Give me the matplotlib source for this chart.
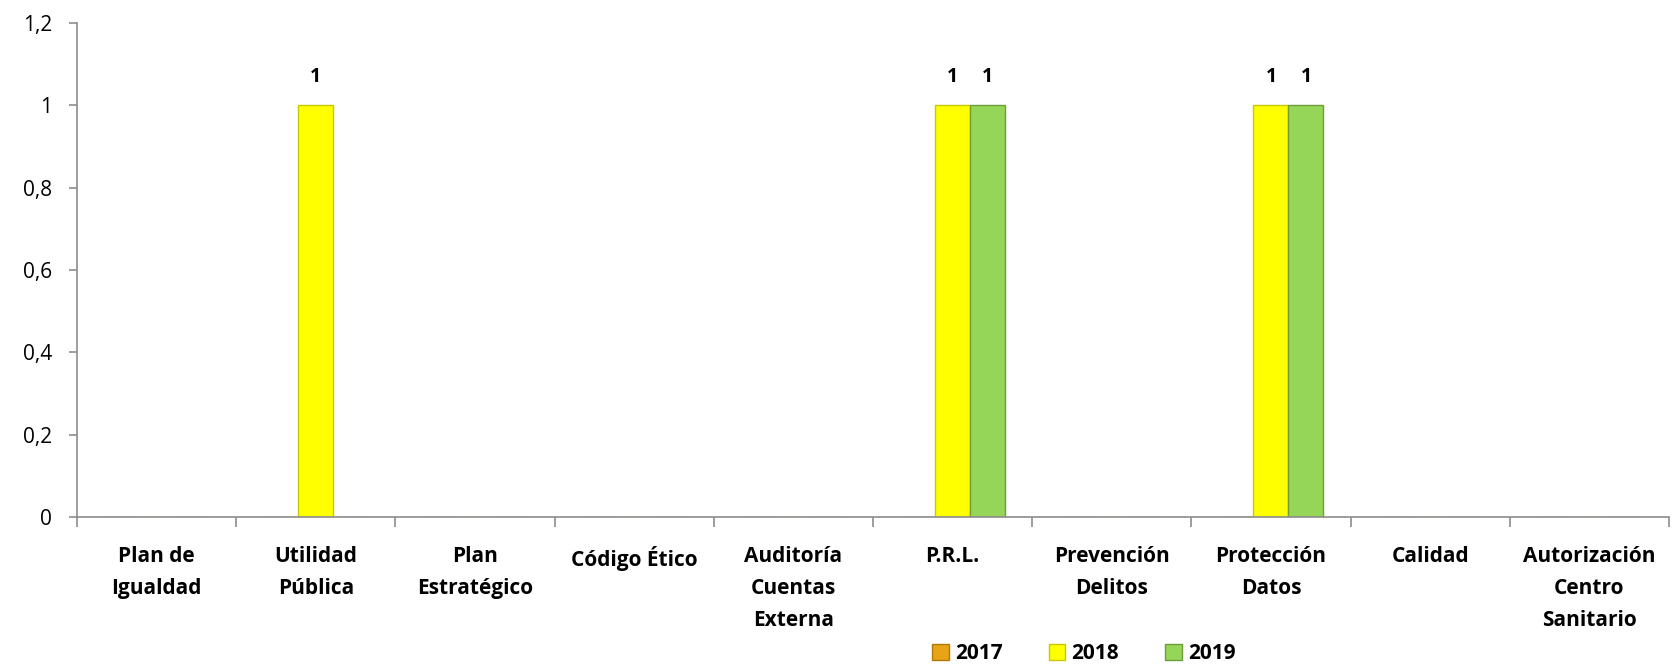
import numpy as np
import matplotlib.pyplot as plt
from matplotlib.patches import Patch

categories = ["Plan de\nIgualdad", "Utilidad\nPública", "Plan\nEstratégico", "Código Ético",
              "Auditoría\nCuentas\nExterna", "P.R.L.", "Prevención\nDelitos", "Protección\nDatos",
              "Calidad", "Autorización\nCentro\nSanitario"]
years = ["2017", "2018", "2019"]
v2017 = [0, 0, 0, 0, 0, 0, 0, 0, 0, 0]
v2018 = [0, 1, 0, 0, 0, 1, 0, 1, 0, 0]
v2019 = [0, 0, 0, 0, 0, 1, 0, 1, 0, 0]
yticks = [0, 0.2, 0.4, 0.6, 0.8, 1, 1.2]
ytick_labels = ["0", "0,2", "0,4", "0,6", "0,8", "1", "1,2"]

colors = ["#E8A317", "#FFFF00", "#95D557"]
edges = ["#B07A0A", "#C8C800", "#6E9E3A"]

plt.rcParams['font.family'] = ['Open Sans', 'DejaVu Sans']

fig = plt.figure(figsize=(16.78, 6.64), dpi=100)
ax = fig.add_axes([0.0459, 0.2214, 0.9487, 0.744])

x = np.arange(len(categories))
w = 0.22
for i, vals in enumerate([v2017, v2018, v2019]):
    pos = x + (i - 1) * w
    bars = ax.bar(pos, vals, w, color=colors[i], edgecolor=edges[i], linewidth=1)
    for b, v in zip(bars, vals):
        if v > 0:
            ax.text(b.get_x() + b.get_width() / 2, v + 0.045, f"{v:g}", ha="center", va="bottom",
                    fontsize=14, fontweight="bold")

ax.set_xlim(-0.5, len(categories) - 0.5)
ax.set_ylim(0, 1.2)
ax.set_yticks(yticks)
ax.set_yticklabels(ytick_labels, fontsize=15)
ax.set_xticks(x)
ax.set_xticklabels(categories, fontsize=15, fontweight="bold", linespacing=1.68, va="top")
ax.tick_params(axis="x", length=0, pad=21)
ax.set_xticks(np.arange(len(categories) + 1) - 0.5, minor=True)
ax.tick_params(axis="x", which="minor", length=7, color="#8C8C8C", width=1.2)
ax.tick_params(axis="y", length=6, color="#8C8C8C", width=1.2, pad=12)
for s in ["top", "right"]:
    ax.spines[s].set_visible(False)
for s in ["left", "bottom"]:
    ax.spines[s].set_color("#8C8C8C")
    ax.spines[s].set_linewidth(1.2)

handles = [Patch(facecolor=c, edgecolor=e, label=y) for c, e, y in zip(colors, edges, years)]
fig.legend(handles=handles, loc="center", bbox_to_anchor=(0.646, 0.016), ncol=3, frameon=False,
           handlelength=0.8, handleheight=0.8, handletextpad=0.3, columnspacing=2.2,
           prop={"size": 15, "weight": "bold"})

fig.savefig("out.png", dpi=100)
